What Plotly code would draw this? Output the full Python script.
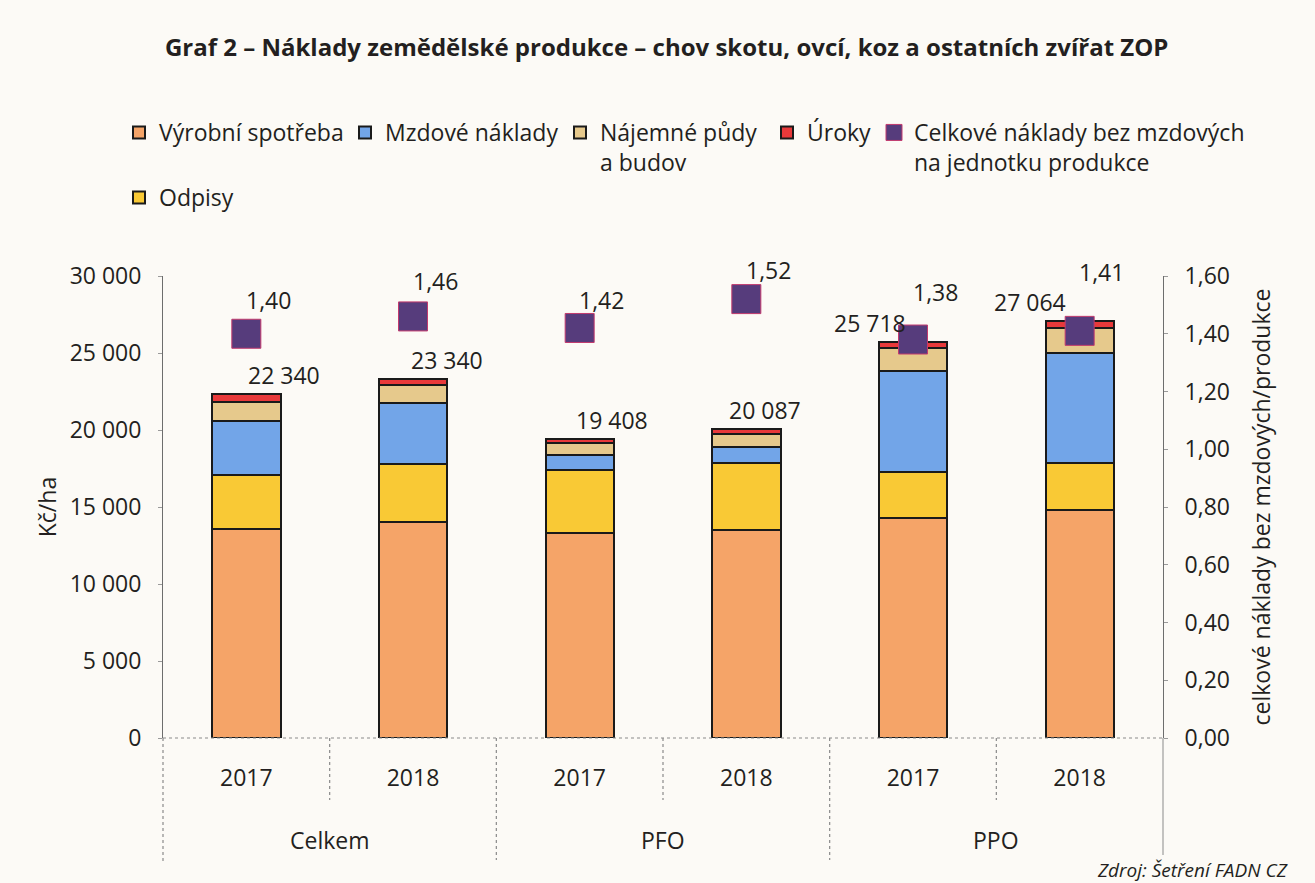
import plotly.graph_objects as go

# ---- data ----
groups = ["Celkem", "Celkem", "PFO", "PFO", "PPO", "PPO"]
years = ["2017", "2018", "2017", "2018", "2017", "2018"]
vyrobni_spotreba = [13600, 14030, 13300, 13500, 14300, 14800]
odpisy = [3500, 3770, 4100, 4350, 3000, 3050]
mzdove_naklady = [3500, 3950, 1000, 1050, 6500, 7150]
najemne = [1200, 1150, 750, 850, 1500, 1600]
uroky = [540, 440, 258, 337, 418, 464]
totals = [22340, 23340, 19408, 20087, 25718, 27064]
celkove_bez_mzdovych = [1.40, 1.46, 1.42, 1.52, 1.38, 1.41]
group_names = ["Celkem", "PFO", "PPO"]

x_keys = [f"{g} {y}" for g, y in zip(groups, years)]

FONT = "Open Sans"
TXT = "#231f20"
BG = "#fcfaf6"
FS = 23

W, H = 1315, 883
L, R, T, B = 163, 152, 276, 145
pw, ph = W - L - R, H - T - B


def px(x):
    return (x - L) / pw


def py(y):
    return (H - B - y) / ph


fig = go.Figure()

series = [
    ("Výrobní spotřeba", vyrobni_spotreba, "#f5a468", "legend"),
    ("Odpisy", odpisy, "#f9c935", "legend6"),
    ("Mzdové náklady", mzdove_naklady, "#72a5e8", "legend2"),
    ("Nájemné půdy<br>a budov", najemne, "#e6c98c", "legend3"),
    ("Úroky", uroky, "#e8393a", "legend4"),
]
for name, vals, col, lg in series:
    fig.add_trace(go.Bar(
        x=x_keys, y=vals, name=name, legend=lg, showlegend=True,
        marker=dict(color=col, line=dict(color="#1a1a1a", width=2)),
        width=0.41,
    ))

fig.add_trace(go.Scatter(
    x=x_keys, y=celkove_bez_mzdovych, yaxis="y2", mode="markers", showlegend=True,
    name="Celkové náklady bez mzdových<br>na jednotku produkce", legend="legend5",
    marker=dict(symbol="square", size=29, color="#563c7c",
                line=dict(color="#c23a6e", width=1)),
))

# total labels
tot_shift = [38, 34, 32, 19, -43, -50]
for xk, t, dx in zip(x_keys, totals, tot_shift):
    fig.add_annotation(x=xk, y=t, yref="y", text=f"{t:,}".replace(",", " "),
                       showarrow=False, xshift=dx, yshift=1, yanchor="bottom",
                       font=dict(family=FONT, size=FS, color=TXT))

# marker labels
mk_shift = [34, 35, 28, 29, 48, 59]
for xk, v, dy in zip(x_keys, celkove_bez_mzdovych, mk_shift):
    fig.add_annotation(x=xk, y=v, yref="y2", text=f"{v:.2f}".replace(".", ","),
                       showarrow=False, xshift=22, yshift=dy, yanchor="middle",
                       font=dict(family=FONT, size=FS, color=TXT))

# group labels
for i, gname in enumerate(group_names):
    fig.add_annotation(x=2 * i + 0.5, y=py(840), yref="paper", text=gname,
                       showarrow=False, yanchor="middle",
                       font=dict(family=FONT, size=FS, color=TXT))

# separators (axis decoration)
sep = dict(color="#8a8a8a", width=1.2, dash="dot")
for xv in [0.5, 2.5, 4.5]:
    fig.add_shape(type="line", x0=xv, x1=xv, y0=0, y1=py(800), xref="x", yref="paper", line=sep)
for xv in [1.5, 3.5]:
    fig.add_shape(type="line", x0=xv, x1=xv, y0=0, y1=py(860), xref="x", yref="paper", line=sep)
fig.add_shape(type="line", x0=0, x1=0, y0=0, y1=py(862), xref="paper", yref="paper", line=sep)
fig.add_shape(type="line", x0=1, x1=1, y0=0, y1=py(855), xref="paper", yref="paper",
              line=dict(color="#8a8a8a", width=1))
fig.add_shape(type="line", x0=0, x1=1, y0=0, y1=0, xref="paper", yref="paper", line=sep)

# source
fig.add_annotation(x=px(1290), y=py(870), xref="paper", yref="paper",
                   text="<i>Zdroj: Šetření FADN CZ</i>",
                   showarrow=False, xanchor="right", yanchor="middle",
                   font=dict(family=FONT, size=19, color=TXT))

leg_font = dict(family=FONT, size=FS, color=TXT)


def leg(x, y):
    return dict(x=px(x), y=py(y), xanchor="left", yanchor="top", orientation="v",
                bgcolor="rgba(0,0,0,0)", font=leg_font, valign="top",
                itemwidth=30, tracegroupgap=0, visible=True)


fig.update_layout(
    width=W, height=H, showlegend=True,
    margin=dict(l=L, r=R, t=T, b=B, autoexpand=False),
    paper_bgcolor=BG, plot_bgcolor=BG,
    barmode="stack", separators=", ",
    font=dict(family=FONT, size=FS, color=TXT),
    title=dict(text="<b>Graf 2 – Náklady zemědělské produkce – chov skotu, ovcí, koz a ostatních zvířat ZOP</b>",
               x=px(670), xanchor="center", y=1 - 48 / H, yanchor="middle",
               font=dict(family=FONT, size=24, color=TXT)),
    legend=leg(119, 111),
    legend2=leg(345, 111),
    legend3=leg(560, 111),
    legend4=leg(767, 111),
    legend5=leg(874, 111),
    legend6=leg(119, 176),
    xaxis=dict(type="category", categoryorder="array", categoryarray=x_keys,
               tickvals=x_keys, ticktext=years, showgrid=False, showline=False,
               ticks="", ticklabelstandoff=24, tickfont=dict(size=FS),
               range=[-0.5, 5.5]),
    yaxis=dict(range=[0, 30000], tickvals=[0, 5000, 10000, 15000, 20000, 25000, 30000],
               tickformat=",d", showgrid=False, showline=True, linecolor="#6d6d6d", linewidth=1,
               ticks="outside", ticklen=4, tickcolor="#9a9a9a", ticklabelstandoff=12,
               zeroline=False, tickfont=dict(size=FS),
               title=dict(text="Kč/ha", standoff=6, font=dict(size=FS))),
    yaxis2=dict(range=[0, 1.6], tickvals=[0, 0.2, 0.4, 0.6, 0.8, 1.0, 1.2, 1.4, 1.6],
                tickformat=".2f", overlaying="y", side="right", showgrid=False,
                showline=True, linecolor="#6d6d6d", linewidth=1, zeroline=False,
                ticks="outside", ticklen=4, tickcolor="#9a9a9a", ticklabelstandoff=12,
                tickfont=dict(size=FS),
                title=dict(text="celkové náklady bez mzdových/produkce", standoff=24,
                           font=dict(size=FS))),
)

fig.write_html("out.html", config={"displayModeBar": False},
               post_script="document.body.style.margin='0';document.body.style.overflow='hidden';")
